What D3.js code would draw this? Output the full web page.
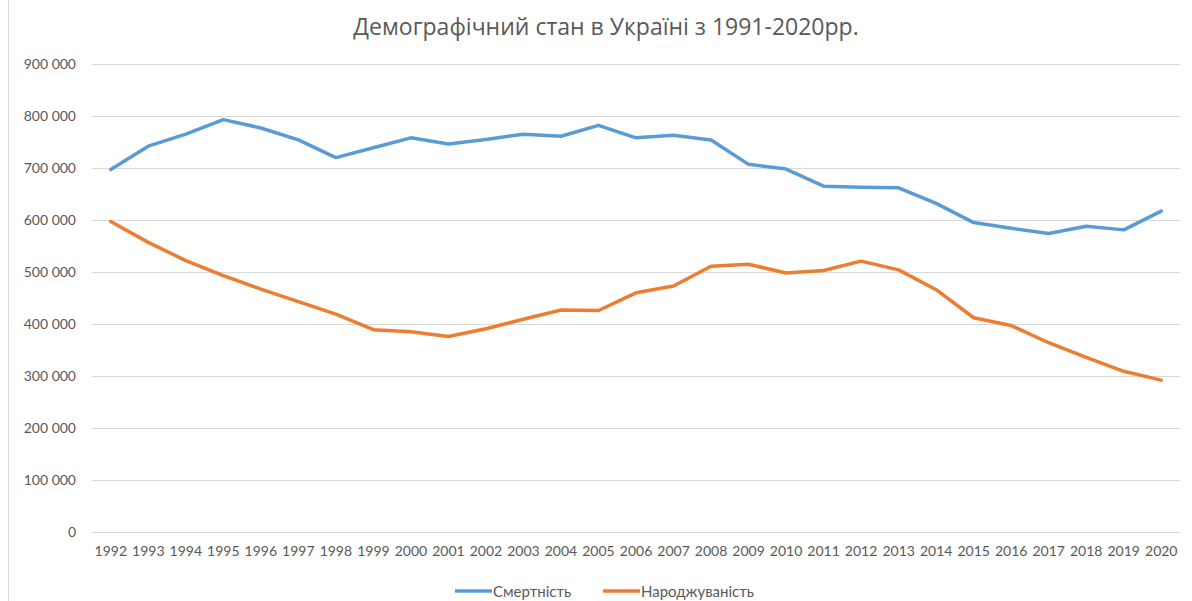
<!DOCTYPE html>
<html lang="uk">
<head>
  <meta charset="UTF-8">
  <title>Демографічний стан в Україні</title>
  <script src="https://d3js.org/d3.v7.min.js"></script>
  <style>
    body { margin: 0; background: #fff; font-family: Lato, "Open Sans", sans-serif; }
    svg text { fill: #595959; }
  </style>
</head>
<body>
<div id="viz"></div>
<script>
// Data
var years = ["1992","1993","1994","1995","1996","1997","1998","1999","2000","2001",
  "2002","2003","2004","2005","2006","2007","2008","2009","2010","2011",
  "2012","2013","2014","2015","2016","2017","2018","2019","2020"];
var deaths = [697000, 742000, 765000, 793000, 777000, 754000, 720000, 739000, 758000, 746000,
  755000, 765000, 761000, 782000, 758000, 763000, 754000, 707000, 698000, 665000,
  663000, 662000, 632000, 595000, 584000, 574000, 588000, 581000, 617000];
var births = [597000, 557000, 522000, 493000, 467000, 443000, 419000, 389000, 385000, 376000,
  391000, 409000, 427000, 426000, 460000, 473000, 511000, 515000, 498000, 503000,
  521000, 504000, 466000, 412000, 397000, 364000, 336000, 309000, 292000];
var yTicks = [0, 100000, 200000, 300000, 400000, 500000, 600000, 700000, 800000, 900000];
var series = [
  { name: "Смертність", values: deaths, color: "#5B9BD5" },
  { name: "Народжуваність", values: births, color: "#ED7D31" }
];

var width = 1192, height = 601;
var margin = { left: 92, right: 12, top: 64, bottom: 69 };

var svg = d3.select("#viz").append("svg")
  .attr("width", width)
  .attr("height", height);

// chart border (left edge visible)
svg.append("line")
  .attr("x1", 8.5).attr("x2", 8.5)
  .attr("y1", 0).attr("y2", height)
  .attr("stroke", "#d9d9d9");

var x = d3.scaleBand()
  .domain(years)
  .range([margin.left, width - margin.right])
  .padding(0);

var y = d3.scaleLinear()
  .domain([0, 900000])
  .range([height - margin.bottom, margin.top]);

var fmt = function(d) {
  return d === 0 ? "0" : d3.format(",")(d).replace(/,/g, " ");
};

// gridlines + y labels
var yAxis = svg.append("g")
  .attr("transform", "translate(" + margin.left + ",0)")
  .call(d3.axisLeft(y).tickValues(yTicks).tickFormat(fmt)
    .tickSize(-(width - margin.left - margin.right)).tickPadding(16));
yAxis.select(".domain").remove();
yAxis.selectAll(".tick line").attr("stroke", "#d9d9d9").attr("stroke-width", 1);
yAxis.selectAll(".tick text")
  .style("font-size", "14px")
  .style("font-family", "Lato, sans-serif")
  .style("fill", "#595959");

// x labels
var xAxis = svg.append("g")
  .attr("transform", "translate(0," + (height - margin.bottom) + ")")
  .call(d3.axisBottom(x).tickSize(0).tickPadding(14));
xAxis.select(".domain").remove();
xAxis.selectAll(".tick text")
  .style("font-size", "14px")
  .style("font-family", "Lato, sans-serif")
  .style("fill", "#595959");

// lines
var line = d3.line()
  .x(function(d, i) { return x(years[i]) + x.bandwidth() / 2; })
  .y(function(d) { return y(d); });

svg.selectAll(".series")
  .data(series)
  .enter()
  .append("path")
    .attr("class", "series")
    .attr("d", function(d) { return line(d.values); })
    .attr("fill", "none")
    .attr("stroke", function(d) { return d.color; })
    .attr("stroke-width", 3.5)
    .attr("stroke-linejoin", "round")
    .attr("stroke-linecap", "round");

// title
svg.append("text")
  .attr("x", 606)
  .attr("y", 35)
  .attr("text-anchor", "middle")
  .style("font-family", "'Open Sans', sans-serif")
  .style("font-size", "23px")
  .text("Демографічний стан в Україні з 1991-2020рр.");

// legend
var legendX = [455, 603];
var legend = svg.selectAll(".legend")
  .data(series)
  .enter()
  .append("g")
    .attr("class", "legend")
    .attr("transform", function(d, i) { return "translate(" + legendX[i] + ",591)"; });

legend.append("line")
  .attr("x1", 0).attr("x2", 37)
  .attr("stroke", function(d) { return d.color; })
  .attr("stroke-width", 3.5);

legend.append("text")
  .attr("x", 38)
  .attr("y", 5.5)
  .style("font-size", "15px")
  .text(function(d) { return d.name; });
</script>
</body>
</html>
